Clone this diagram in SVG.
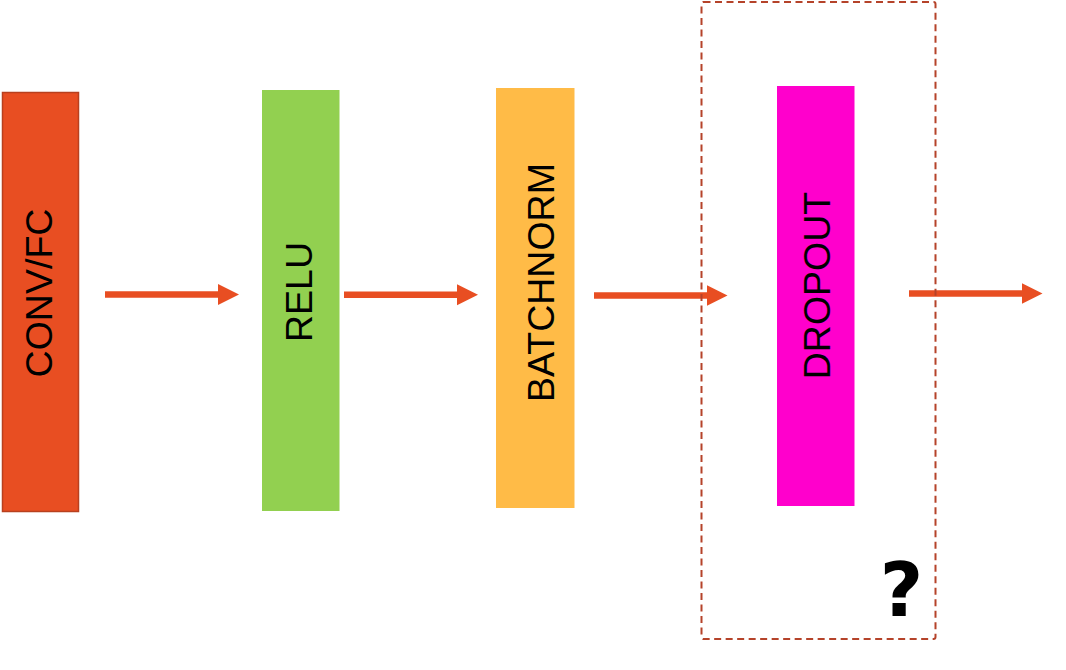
<svg xmlns="http://www.w3.org/2000/svg" width="1066" height="670" viewBox="0 0 1066 670">
<style>
.lbl{font-family:"Liberation Sans",Arial,sans-serif;font-size:37.5px;fill:#000;text-anchor:middle}
.conn{stroke:#E84E22;stroke-width:6.5;fill:none}
</style>
<defs>
<marker id="ah" markerUnits="userSpaceOnUse" markerWidth="22" markerHeight="22" refX="1" refY="10.5" orient="auto" viewBox="0 0 22 22">
<path d="M0,0 L21,10.5 L0,21 Z" fill="#E84E22"/>
</marker>
</defs>
<rect width="1066" height="670" fill="#fff"/>
<g id="node-conv">
<rect x="2.5" y="92.5" width="76" height="419" fill="#E84E22" stroke="#B8401F" stroke-width="1.5"/>
<text class="lbl" transform="translate(52,293) rotate(-90)">CONV/FC</text>
</g>
<g id="node-relu">
<rect x="262" y="90" width="77.5" height="421" fill="#92D050"/>
<text class="lbl" transform="translate(312,292) rotate(-90)">RELU</text>
</g>
<g id="node-batchnorm">
<rect x="496" y="88" width="78.5" height="420" fill="#FFBB47"/>
<text class="lbl" transform="translate(553.5,282.5) rotate(-90)">BATCHNORM</text>
</g>
<g id="node-dropout">
<rect x="777" y="86" width="77.5" height="420" fill="#FF00CC"/>
<text class="lbl" transform="translate(830,285.5) rotate(-90)">DROPOUT</text>
</g>
<g id="connectors">
<line class="conn" x1="105" y1="294.5" x2="219" y2="294.5" marker-end="url(#ah)"/>
<line class="conn" x1="344" y1="294.7" x2="458" y2="294.7" marker-end="url(#ah)"/>
<line class="conn" x1="594" y1="295.5" x2="707.5" y2="295.5" marker-end="url(#ah)"/>
<line class="conn" x1="909" y1="293.5" x2="1022.5" y2="293.5" marker-end="url(#ah)"/>
</g>
<g id="group-dropout-optional">
<rect x="701.5" y="2" width="234" height="637" rx="2" fill="none" stroke="#B5432A" stroke-width="2" stroke-dasharray="7,4.5"/>
<text x="901.5" y="615.5" font-family="'DejaVu Sans',sans-serif" font-weight="bold" font-size="75" text-anchor="middle" fill="#000">?</text>
</g>
</svg>
